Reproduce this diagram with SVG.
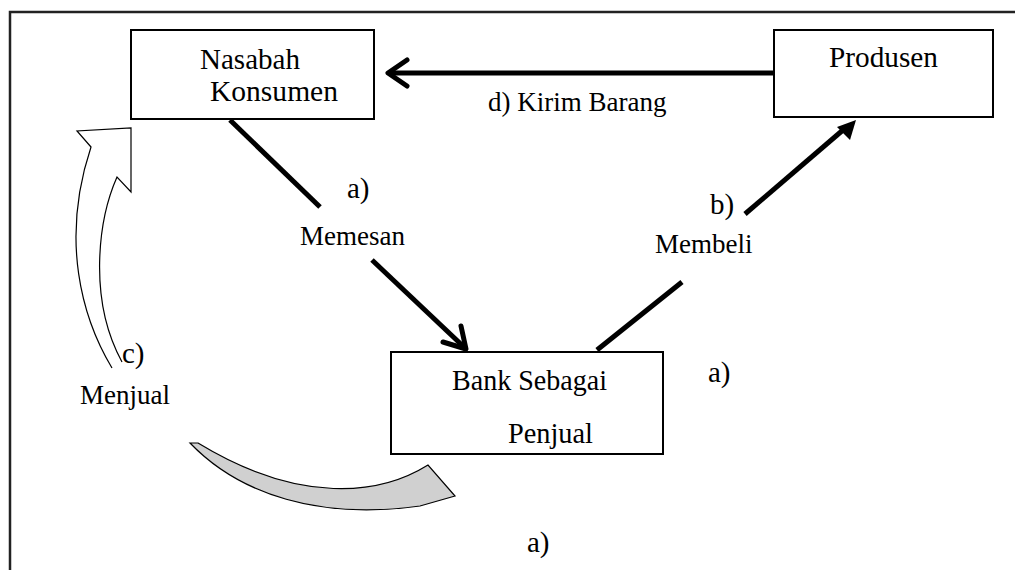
<svg xmlns="http://www.w3.org/2000/svg" width="1015" height="570" viewBox="0 0 1015 570">
  <defs>
    <style>
      .box { fill: #fff; stroke: #000; stroke-width: 2; }
      .frame { fill: none; stroke: #222; stroke-width: 2.5; }
      .t { font-family: "Liberation Serif", "Times New Roman", serif; fill: #000; }
      .big { font-size: 30px; }
      .tag { font-size: 29px; }
      .lbl { font-size: 27px; }
      .conn { fill: none; stroke: #000; stroke-width: 5; }
      .chev { fill: none; stroke: #000; stroke-width: 5; stroke-linecap: round; stroke-linejoin: round; }
    </style>
  </defs>
  <rect width="1015" height="570" fill="#fff"/>
  <!-- outer frame -->
  <path class="frame" d="M10,580 V12 H1030"/>

  <!-- connectors -->
  <g id="connectors">
    <!-- d) Kirim Barang -->
    <line class="conn" x1="774" y1="73" x2="390" y2="73"/>
    <polyline class="chev" points="407,60 388,73 407,86"/>
    <!-- a) Memesan -->
    <line class="conn" x1="230" y1="120" x2="320" y2="207"/>
    <line class="conn" x1="372" y1="260" x2="465" y2="348"/>
    <polyline class="chev" points="443,342 466,349 461,326"/>
    <!-- b) Membeli -->
    <line class="conn" x1="597" y1="350" x2="682" y2="282"/>
    <line class="conn" x1="745" y1="214" x2="843" y2="130"/>
    <polygon points="856,120 837,127 850,140" fill="#000"/>
    <!-- c) Menjual: white curved block arrow, tail left open -->
    <path d="M112,368 C82,318 60,240 91,147 L77,131 L131,128 L131,192 L117,177 C98,220 88,300 122,362" fill="#fff" stroke="#000" stroke-width="1.2"/>
    <!-- grey curved band -->
    <path d="M190,443 C240,495 320,520 420,506 L455,496 L428,465 C380,495 300,505 198,443 Z" fill="#d0d0d0" stroke="#000" stroke-width="1.2"/>
  </g>

  <g id="nasabah">
    <rect class="box" x="131" y="30" width="243" height="89"/>
    <text class="t big" x="200" y="69" textLength="100" lengthAdjust="spacingAndGlyphs">Nasabah</text>
    <text class="t big" x="210" y="101" textLength="128" lengthAdjust="spacingAndGlyphs">Konsumen</text>
  </g>
  <g id="produsen">
    <rect class="box" x="774" y="30" width="219" height="87"/>
    <text class="t big" x="829" y="67" textLength="109" lengthAdjust="spacingAndGlyphs">Produsen</text>
  </g>
  <g id="bank">
    <rect class="box" x="391" y="352" width="272" height="102"/>
    <text class="t big" x="452" y="390" textLength="155" lengthAdjust="spacingAndGlyphs">Bank Sebagai</text>
    <text class="t big" x="508" y="443" textLength="85" lengthAdjust="spacingAndGlyphs">Penjual</text>
  </g>

  <g id="labels">
    <text class="t lbl" x="488" y="111">d) Kirim Barang</text>
    <text class="t tag" x="347" y="198">a)</text>
    <text class="t lbl" x="300" y="245">Memesan</text>
    <text class="t tag" x="710" y="214">b)</text>
    <text class="t lbl" x="655" y="253">Membeli</text>
    <text class="t tag" x="122" y="363">c)</text>
    <text class="t lbl" x="80" y="404">Menjual</text>
    <text class="t tag" x="708" y="382">a)</text>
    <text class="t tag" x="527" y="552">a)</text>
  </g>
</svg>
